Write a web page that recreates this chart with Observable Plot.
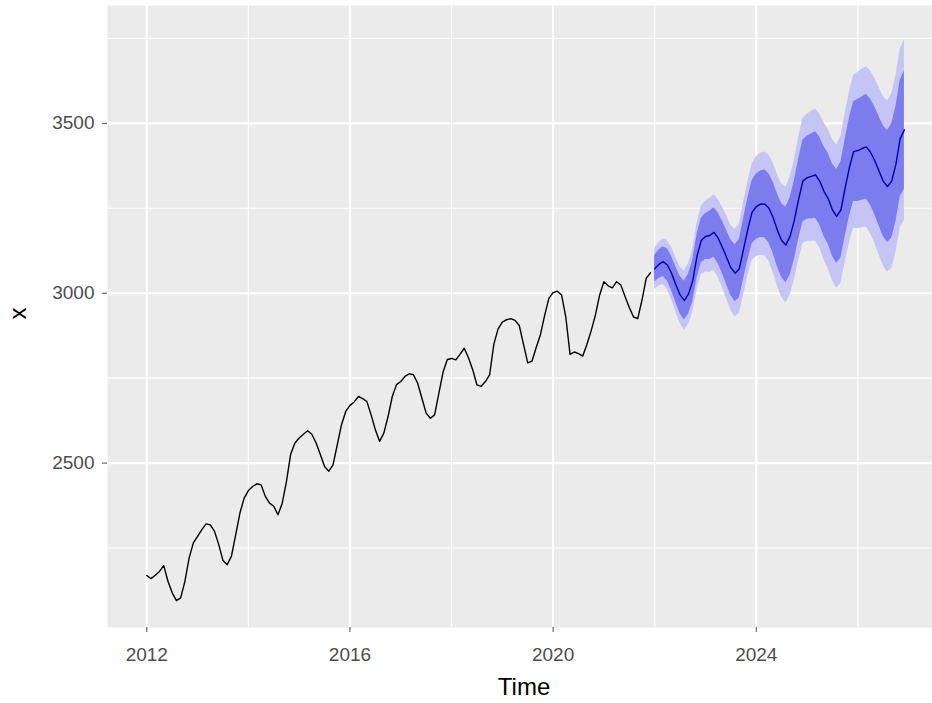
<!DOCTYPE html>
<html><head><meta charset="utf-8">
<script src="https://cdn.jsdelivr.net/npm/d3@7"></script>
<script src="https://cdn.jsdelivr.net/npm/@observablehq/plot@0.6"></script>
<style>html,body{margin:0;padding:0;background:#fff}</style>
</head><body><div id="chart"></div>
<script>
// Observed monthly series, Jan 2012 .. Dec 2021
const obsStart = 2012;
const observed = [
  2169,2160,2170,2181,2198,2152,2118,2095,2103,2152,2221,2265,
  2284,2304,2321,2318,2299,2260,2213,2201,2226,2289,2353,2397,
  2419,2431,2439,2436,2402,2382,2373,2348,2382,2446,2527,2559,
  2574,2585,2595,2585,2559,2525,2490,2476,2495,2554,2613,2652,
  2670,2680,2696,2690,2681,2642,2598,2564,2588,2637,2696,2731,
  2740,2755,2763,2760,2735,2691,2647,2632,2642,2705,2768,2805,
  2808,2804,2820,2838,2810,2775,2730,2726,2740,2760,2850,2895,
  2915,2922,2925,2920,2905,2850,2795,2800,2840,2878,2935,2985,
  3002,3006,2995,2930,2820,2827,2822,2815,2850,2890,2936,2995,
  3034,3022,3016,3034,3024,2990,2958,2930,2925,2980,3044,3060
];
// Forecast, Jan 2022 .. Dec 2026
const fcStart = 2022;
const fcMean = [
  3072,3085,3093,3083,3058,3025,2995,2978,2998,3037,3109,3155,
  3167,3170,3179,3162,3135,3105,3075,3059,3072,3130,3188,3238,
  3255,3262,3263,3250,3222,3185,3155,3142,3168,3215,3276,3330,
  3340,3344,3348,3330,3300,3278,3245,3226,3245,3310,3370,3417,
  3420,3426,3431,3415,3390,3360,3330,3314,3330,3380,3455,3481
];
const lo80 = [
  3033,3043,3049,3036,3008,2973,2940,2921,2939,2976,3045,3089,
  3099,3099,3106,3087,3058,3025,2993,2975,2986,3041,3097,3145,
  3159,3164,3163,3148,3117,3078,3046,3031,3054,3099,3158,3210,
  3218,3219,3221,3201,3168,3144,3109,3088,3104,3167,3225,3270,
  3270,3274,3277,3259,3231,3199,3167,3149,3162,3210,3283,3307
];
const hi80 = [
  3111,3127,3137,3130,3108,3077,3050,3035,3057,3098,3173,3221,
  3235,3241,3252,3237,3212,3185,3157,3143,3158,3219,3279,3331,
  3351,3360,3363,3352,3327,3292,3264,3253,3282,3331,3394,3450,
  3462,3469,3475,3459,3432,3412,3381,3364,3386,3453,3515,3564,
  3570,3578,3585,3571,3549,3521,3493,3479,3498,3550,3627,3655
];
const lo95 = [
  3012,3021,3026,3011,2981,2945,2911,2891,2908,2944,3011,3054,
  3063,3061,3067,3047,3017,2983,2950,2930,2940,2994,3049,3096,
  3108,3112,3110,3094,3061,3021,2988,2972,2994,3038,3095,3146,
  3153,3153,3154,3133,3098,3073,3037,3015,3029,3091,3148,3192,
  3190,3193,3195,3176,3147,3114,3081,3062,3073,3120,3192,3215
];
const hi95 = [
  3132,3149,3160,3155,3135,3105,3079,3065,3088,3130,3207,3256,
  3271,3279,3291,3277,3253,3227,3200,3188,3204,3266,3327,3380,
  3402,3412,3416,3406,3383,3349,3322,3312,3342,3392,3457,3514,
  3527,3535,3542,3527,3502,3483,3453,3437,3461,3529,3592,3642,
  3650,3659,3667,3654,3633,3606,3579,3566,3587,3640,3718,3747
];
const xMajor = [2012, 2016, 2020, 2024];
const xMinor = [2014, 2018, 2022, 2026];
const yMajor = [2500, 3000, 3500];
const yMinor = [2250, 2750, 3250, 3750];

const obs = observed.map((v, i) => ({t: obsStart + i / 12, v}));
const fc = fcMean.map((v, i) => ({
  t: fcStart + i / 12, v,
  lo80: lo80[i], hi80: hi80[i], lo95: lo95[i], hi95: hi95[i]
}));

const chart = Plot.plot({
  width: 932,
  height: 703,
  marginLeft: 107,
  marginRight: 0,
  marginTop: 5,
  marginBottom: 76,
  style: {fontFamily: "'Liberation Sans', Arial, sans-serif", fontSize: "19px", background: "#fff"},
  x: {type: "linear", domain: [2011.226, 2027.47]},
  y: {type: "linear", domain: [2016, 3847]},
  marks: [
    Plot.frame({fill: "#EBEBEB", stroke: null}),
    Plot.gridX(xMinor, {stroke: "#fff", strokeOpacity: 1, strokeWidth: 1.1}),
    Plot.gridY(yMinor, {stroke: "#fff", strokeOpacity: 1, strokeWidth: 1.1}),
    Plot.gridX(xMajor, {stroke: "#fff", strokeOpacity: 1, strokeWidth: 2.1}),
    Plot.gridY(yMajor, {stroke: "#fff", strokeOpacity: 1, strokeWidth: 2.1}),
    Plot.areaY(fc, {x: "t", y1: "lo95", y2: "hi95", fill: "#C4C4F5"}),
    Plot.areaY(fc, {x: "t", y1: "lo80", y2: "hi80", fill: "#7C7CEF"}),
    Plot.line(obs, {x: "t", y: "v", stroke: "#000", strokeWidth: 1.4}),
    Plot.line(fc, {x: "t", y: "v", stroke: "#0000AA", strokeWidth: 1.4}),
    Plot.axisX(xMajor, {tickSize: 5, tickPadding: 15, tickFormat: d => String(d), label: null, color: "#4D4D4D", fontSize: 19}),
    Plot.axisY(yMajor, {tickSize: 5, tickPadding: 8, tickFormat: d => String(d), label: null, color: "#4D4D4D", fontSize: 19}),
    Plot.text(["Time"], {frameAnchor: "bottom", dx: 4, dy: 67, fontSize: 24, fill: "#000"}),
    Plot.text(["x"], {frameAnchor: "left", dx: -89, dy: 3, rotate: -90, fontSize: 24, fill: "#000"})
  ]
});
document.getElementById("chart").appendChild(chart);
</script>
</body></html>
